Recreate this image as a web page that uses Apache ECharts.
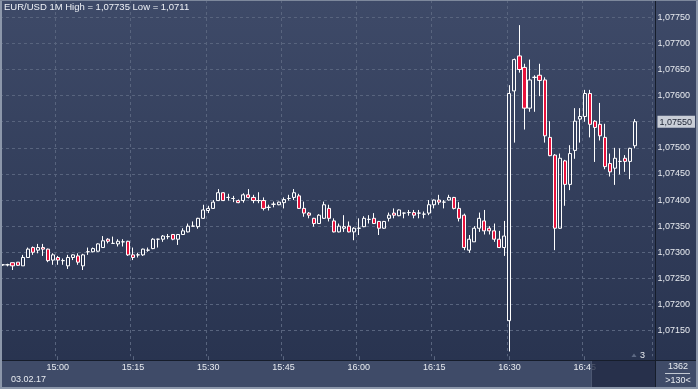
<!DOCTYPE html>
<html><head><meta charset="utf-8">
<script src="https://cdn.jsdelivr.net/npm/echarts@6/dist/echarts.min.js"></script>
<style>html,body{margin:0;padding:0;background:#2f3a57}#c{width:698px;height:389px}</style>
</head><body><div id="c"></div><script>
const times = ['14:49','14:50','14:51','14:52','14:53','14:54','14:55','14:56','14:57','14:58','14:59',
'15:00','15:01','15:02','15:03','15:04','15:05','15:06','15:07','15:08','15:09','15:10','15:11','15:12','15:13','15:14',
'15:15','15:16','15:17','15:18','15:19','15:20','15:21','15:22','15:23','15:24','15:25','15:26','15:27','15:28','15:29',
'15:30','15:31','15:32','15:33','15:34','15:35','15:36','15:37','15:38','15:39','15:40','15:41','15:42','15:43','15:44',
'15:45','15:46','15:47','15:48','15:49','15:50','15:51','15:52','15:53','15:54','15:55','15:56','15:57','15:58','15:59',
'16:00','16:01','16:02','16:03','16:04','16:05','16:06','16:07','16:08','16:09','16:10','16:11','16:12','16:13','16:14',
'16:15','16:16','16:17','16:18','16:19','16:20','16:21','16:22','16:23','16:24','16:25','16:26','16:27','16:28','16:29',
'16:30','16:31','16:32','16:33','16:34','16:35','16:36','16:37','16:38','16:39','16:40','16:41','16:42','16:43','16:44',
'16:45','16:46','16:47','16:48','16:49','16:50','16:51','16:52','16:53','16:54','16:55','16:56','16:57','16:58'];
const opens = [1.07276,1.07276,1.07280,1.07281,1.07274,1.07290,1.07309,1.07304,1.07309,1.07306,1.07285,
1.07290,1.07284,1.07274,1.07290,1.07293,1.07274,1.07301,1.07301,1.07302,1.07309,1.07325,1.07317,1.07316,1.07320,1.07321,
1.07295,1.07295,1.07295,1.07304,1.07307,1.07325,1.07325,1.07330,1.07334,1.07325,1.07334,1.07339,1.07350,1.07349,1.07365,
1.07380,1.07384,1.07399,1.07414,1.07405,1.07403,1.07399,1.07399,1.07410,1.07405,1.07399,1.07399,1.07386,1.07392,1.07391,
1.07395,1.07403,1.07405,1.07408,1.07384,1.07375,1.07365,1.07355,1.07365,1.07384,1.07360,1.07339,1.07346,1.07350,1.07339,
1.07346,1.07349,1.07363,1.07365,1.07359,1.07346,1.07365,1.07375,1.07370,1.07375,1.07376,1.07376,1.07375,1.07373,1.07375,
1.07391,1.07400,1.07396,1.07400,1.07405,1.07384,1.07371,1.07304,1.07320,1.07346,1.07360,1.07346,1.07341,1.07325,1.07309,
1.07169,1.07609,1.07676,1.07654,1.07576,1.07635,1.07639,1.07630,1.07520,1.07486,1.07346,1.07475,1.07430,1.07495,1.07555,
1.07560,1.07604,1.07551,1.07545,1.07520,1.07470,1.07461,1.07474,1.07480,1.07474,1.07504];
const closes = [1.07276,1.07276,1.07274,1.07275,1.07290,1.07306,1.07300,1.07309,1.07306,1.07284,1.07295,
1.07285,1.07284,1.07290,1.07295,1.07281,1.07295,1.07301,1.07307,1.07316,1.07322,1.07321,1.07317,1.07321,1.07320,1.07295,
1.07290,1.07295,1.07306,1.07304,1.07325,1.07325,1.07331,1.07330,1.07325,1.07334,1.07341,1.07350,1.07350,1.07365,1.07381,
1.07384,1.07396,1.07414,1.07399,1.07405,1.07403,1.07395,1.07410,1.07405,1.07399,1.07399,1.07384,1.07386,1.07392,1.07396,
1.07401,1.07403,1.07414,1.07384,1.07375,1.07371,1.07355,1.07371,1.07391,1.07365,1.07339,1.07350,1.07349,1.07339,1.07346,
1.07346,1.07365,1.07363,1.07355,1.07346,1.07359,1.07371,1.07371,1.07381,1.07375,1.07376,1.07371,1.07375,1.07373,1.07391,
1.07400,1.07396,1.07396,1.07405,1.07384,1.07365,1.07309,1.07325,1.07346,1.07365,1.07341,1.07341,1.07325,1.07309,1.07331,
1.07604,1.07669,1.07650,1.07576,1.07630,1.07635,1.07629,1.07523,1.07485,1.07346,1.07480,1.07430,1.07489,1.07551,1.07560,
1.07604,1.07545,1.07539,1.07523,1.07464,1.07454,1.07480,1.07474,1.07474,1.07499,1.07550];
const lows = [1.07274,1.07273,1.07266,1.07274,1.07274,1.07290,1.07295,1.07298,1.07293,1.07281,1.07276,
1.07276,1.07276,1.07268,1.07285,1.07276,1.07266,1.07295,1.07300,1.07301,1.07309,1.07317,1.07316,1.07311,1.07311,1.07293,
1.07285,1.07290,1.07293,1.07301,1.07306,1.07309,1.07320,1.07325,1.07323,1.07314,1.07333,1.07338,1.07349,1.07345,1.07364,
1.07375,1.07383,1.07398,1.07398,1.07399,1.07396,1.07394,1.07395,1.07403,1.07394,1.07394,1.07380,1.07380,1.07386,1.07390,
1.07384,1.07399,1.07400,1.07383,1.07368,1.07365,1.07349,1.07355,1.07364,1.07359,1.07338,1.07338,1.07339,1.07338,1.07323,
1.07333,1.07348,1.07355,1.07354,1.07333,1.07345,1.07359,1.07365,1.07369,1.07365,1.07370,1.07365,1.07365,1.07365,1.07371,
1.07384,1.07391,1.07384,1.07399,1.07382,1.07359,1.07304,1.07299,1.07320,1.07339,1.07334,1.07334,1.07320,1.07308,1.07293,
1.07110,1.07510,1.07644,1.07535,1.07569,1.07569,1.07599,1.07510,1.07484,1.07304,1.07345,1.07389,1.07419,1.07479,1.07510,
1.07550,1.07520,1.07473,1.07514,1.07459,1.07445,1.07429,1.07449,1.07454,1.07440,1.07499];
const highs = [1.07276,1.07278,1.07280,1.07281,1.07295,1.07309,1.07311,1.07316,1.07316,1.07307,1.07298,
1.07293,1.07288,1.07295,1.07296,1.07298,1.07297,1.07309,1.07309,1.07317,1.07331,1.07327,1.07330,1.07325,1.07325,1.07322,
1.07309,1.07299,1.07307,1.07309,1.07327,1.07326,1.07333,1.07335,1.07335,1.07335,1.07346,1.07355,1.07359,1.07366,1.07391,
1.07389,1.07400,1.07421,1.07415,1.07412,1.07408,1.07401,1.07413,1.07421,1.07410,1.07415,1.07405,1.07391,1.07397,1.07397,
1.07405,1.07410,1.07421,1.07412,1.07397,1.07377,1.07366,1.07373,1.07397,1.07391,1.07365,1.07355,1.07371,1.07359,1.07348,
1.07365,1.07369,1.07371,1.07375,1.07360,1.07360,1.07376,1.07384,1.07382,1.07376,1.07381,1.07381,1.07381,1.07378,1.07400,
1.07401,1.07410,1.07400,1.07410,1.07406,1.07396,1.07374,1.07333,1.07350,1.07376,1.07381,1.07350,1.07355,1.07341,1.07360,
1.07620,1.07671,1.07735,1.07661,1.07669,1.07639,1.07661,1.07635,1.07551,1.07488,1.07489,1.07477,1.07505,1.07576,1.07576,
1.07611,1.07611,1.07553,1.07586,1.07546,1.07489,1.07500,1.07499,1.07486,1.07500,1.07555];
const symbolName = 'EUR/USD 1M';
const dateLabel = '03.02.17';
const tickCount = '3';
const counterTop = '1362';
const counterBottom = '>130<';

const FONT = '"Liberation Sans", Arial, sans-serif';
const fmt = v => v.toFixed(5).replace('.', ',');
const fmtShort = v => String(+v.toFixed(5)).replace('.', ',');
const hi = Math.max(...highs), lo = Math.min(...lows);
const lastClose = closes[closes.length - 1];
const isQuarter = v => /:(00|15|30|45)$/.test(v);
const data = opens.map((o, i) => [o, closes[i], lows[i], highs[i]]);

const chart = echarts.init(document.getElementById('c'), null, {renderer: 'canvas'});
const gridCol = '#58647e';
const txt = '#e8ebf0';
chart.setOption({
  animation: false,
  backgroundColor: {type: 'linear', x: 0, y: 0, x2: 0, y2: 1,
    colorStops: [{offset: 0, color: '#3e4a68'}, {offset: 1, color: '#27324e'}]},
  textStyle: {fontFamily: FONT},
  title: {text: symbolName + ' High = ' + fmtShort(hi) + ' Low = ' + fmtShort(lo),
    left: 4, top: 2, padding: 0,
    textStyle: {color: '#eef1f6', fontSize: 9.5, fontWeight: 'normal', fontFamily: FONT}},
  grid: {left: 0, top: 0, right: 44, bottom: 32.83},
  xAxis: {type: 'category', data: times, boundaryGap: true,
    axisLine: {show: false},
    axisTick: {show: true, alignWithLabel: true, interval: (i, v) => isQuarter(v), length: 4, lineStyle: {color: gridCol}},
    axisLabel: {interval: (i, v) => isQuarter(v), color: txt, fontSize: 9, margin: 7, fontFamily: FONT},
    splitLine: {show: true, interval: (i, v) => isQuarter(v), lineStyle: {color: gridCol, type: [3, 3], width: 1}}},
  yAxis: {type: 'value', position: 'right', min: 1.07101, max: 1.077831, splitNumber: 14,
    axisLine: {show: false}, axisTick: {show: false},
    axisLabel: {showMinLabel: false, showMaxLabel: false, margin: 5, color: txt, fontSize: 9, fontFamily: FONT,
      formatter: v => Math.abs(v - lastClose) < 1e-7 ? '{cur|' + fmt(v) + '}' : fmt(v),
      rich: {cur: {backgroundColor: '#c9ced7', color: '#1b2232', fontSize: 9, fontFamily: FONT, padding: [2, 3, 1, 2]}}},
    splitLine: {show: true, showMinLine: false, showMaxLine: false, lineStyle: {color: gridCol, type: [3, 3], width: 1}}},
  series: [{type: 'candlestick', data: data, barWidth: 3.6,
    itemStyle: {color: 'rgba(0,0,0,0)', color0: '#e8123c', borderColor: '#ffffff', borderColor0: '#ffffff', borderWidth: 1}}],
  graphic: [
    {type: 'rect', z: -1, silent: true, shape: {x: 0, y: 360, width: 698, height: 29}, style: {fill: '#3f4b68'}},
    {type: 'rect', z: 5, silent: true, shape: {x: 591, y: 361, width: 64, height: 26}, style: {fill: 'rgba(32,41,66,0.78)'}},
    {type: 'line', z: 6, silent: true, shape: {x1: 591.5, y1: 361, x2: 591.5, y2: 387}, style: {stroke: '#4c5772', lineWidth: 1}},
    {type: 'line', z: 6, silent: true, shape: {x1: 0, y1: 360.5, x2: 698, y2: 360.5}, style: {stroke: '#161d2b', lineWidth: 1}},
    {type: 'line', z: 6, silent: true, shape: {x1: 655.5, y1: 0, x2: 655.5, y2: 387}, style: {stroke: '#161d2b', lineWidth: 1}},
    {type: 'polygon', z: 6, silent: true, shape: {points: [[631.5, 357], [634, 353.5], [636.5, 357]]}, style: {fill: '#5d6983'}},
    {type: 'text', z: 6, silent: true, x: 640, y: 351, style: {text: tickCount, fill: txt, font: '9px ' + FONT}},
    {type: 'text', z: 6, silent: true, x: 11, y: 375, style: {text: dateLabel, fill: txt, font: '9px ' + FONT}},
    {type: 'text', z: 6, silent: true, x: 678, y: 362.5, style: {text: counterTop, fill: txt, font: '9px ' + FONT, align: 'center', textAlign: 'center'}},
    {type: 'line', z: 6, silent: true, shape: {x1: 665, y1: 373.5, x2: 690, y2: 373.5}, style: {stroke: '#c3c9d3', lineWidth: 1}},
    {type: 'text', z: 6, silent: true, x: 678, y: 376, style: {text: counterBottom, fill: txt, font: '9px ' + FONT, align: 'center', textAlign: 'center'}},
    {type: 'rect', z: 10, silent: true, shape: {x: 0, y: 0, width: 2, height: 389}, style: {fill: '#8c97aa'}},
    {type: 'rect', z: 10, silent: true, shape: {x: 696, y: 0, width: 2, height: 389}, style: {fill: '#8c97aa'}},
    {type: 'rect', z: 10, silent: true, shape: {x: 0, y: 387, width: 698, height: 2}, style: {fill: '#8c97aa'}},
    {type: 'rect', z: 10, silent: true, shape: {x: 0, y: 0, width: 698, height: 1}, style: {fill: '#7d889c'}}
  ]
});
</script></body></html>
